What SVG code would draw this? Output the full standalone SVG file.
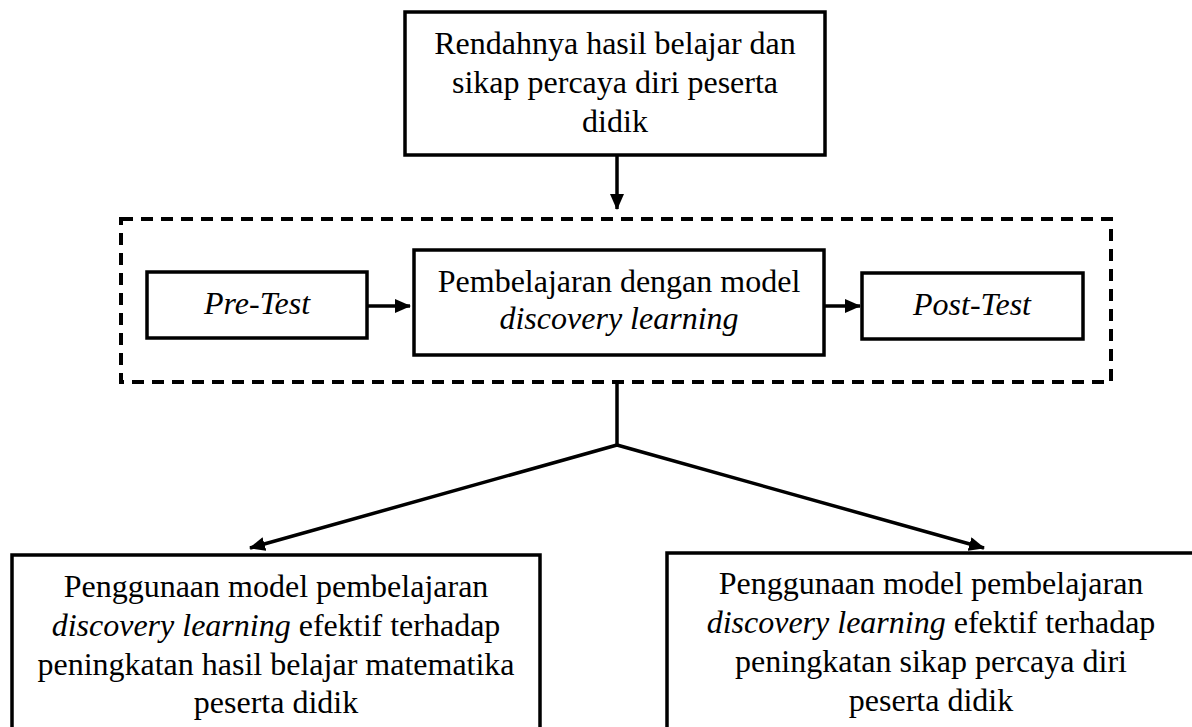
<svg xmlns="http://www.w3.org/2000/svg" width="1192" height="727" viewBox="0 0 1192 727">
<style>
.box{fill:#fff;stroke:#000;stroke-width:3.5}
.dash{fill:none;stroke:#000;stroke-width:4;stroke-dasharray:12 8}
.ln{fill:none;stroke:#000;stroke-width:3.5}
text{font-family:"Liberation Serif","Times New Roman",serif;font-size:32px;fill:#000;text-anchor:middle}
.it{font-style:italic}
</style>
<defs>
<marker id="ah" markerUnits="userSpaceOnUse" markerWidth="16" markerHeight="14" refX="15" refY="7" orient="auto">
<path d="M0,0 L16,7 L0,14 Z" fill="#000"/>
</marker>
</defs>
<rect width="1192" height="727" fill="#fff"/>
<g id="group-dashed">
<rect class="dash" x="121" y="219" width="990" height="163"/>
</g>
<g id="connectors">
<line class="ln" x1="617" y1="155" x2="617" y2="209" marker-end="url(#ah)"/>
<line class="ln" x1="368" y1="306" x2="410" y2="306" marker-end="url(#ah)"/>
<line class="ln" x1="824" y1="306" x2="860" y2="306" marker-end="url(#ah)"/>
<polyline class="ln" points="617,383 617,445"/>
<line class="ln" x1="617" y1="445" x2="250" y2="548" marker-end="url(#ah)"/>
<line class="ln" x1="617" y1="445" x2="984" y2="548" marker-end="url(#ah)"/>
</g>
<g id="node-top">
<rect class="box" x="405" y="12" width="420" height="143"/>
<text x="615" y="54">Rendahnya hasil belajar dan</text>
<text x="615" y="93">sikap percaya diri peserta</text>
<text x="615" y="132">didik</text>
</g>
<g id="node-pretest">
<rect class="box" x="147" y="272" width="220" height="66"/>
<text class="it" x="257" y="314">Pre-Test</text>
</g>
<g id="node-middle">
<rect class="box" x="414" y="250" width="410" height="105"/>
<text x="619" y="292">Pembelajaran dengan model</text>
<text class="it" x="619" y="329">discovery learning</text>
</g>
<g id="node-posttest">
<rect class="box" x="862" y="273" width="221" height="66"/>
<text class="it" x="972" y="315">Post-Test</text>
</g>
<g id="node-left">
<rect class="box" x="12" y="555" width="528" height="190"/>
<text x="276" y="597">Penggunaan model pembelajaran</text>
<text x="276" y="636"><tspan class="it">discovery learning</tspan> efektif terhadap</text>
<text x="276" y="675">peningkatan hasil belajar matematika</text>
<text x="276" y="713">peserta didik</text>
</g>
<g id="node-right">
<rect class="box" x="667" y="553" width="530" height="190"/>
<text x="931" y="594">Penggunaan model pembelajaran</text>
<text x="931" y="633"><tspan class="it">discovery learning</tspan> efektif terhadap</text>
<text x="931" y="672">peningkatan sikap percaya diri</text>
<text x="931" y="711">peserta didik</text>
</g>
</svg>
